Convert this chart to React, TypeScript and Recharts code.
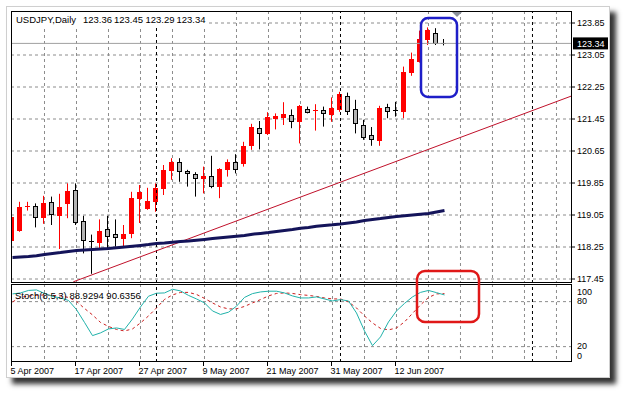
import React from 'react';
import {
  Bar,
  CartesianGrid,
  ComposedChart,
  Line,
  ReferenceLine,
  XAxis,
  YAxis,
} from 'recharts';

// USDJPY daily, 5 Apr 2007 .. 20 Jun 2007 (bar index 0..54)
const opens = [
  118.43, 118.68, 119.25, 119.28, 119.01, 119.37, 119.05, 119.36, 119.68, 118.91,
  118.41, 118.38, 118.69, 118.58, 118.48, 118.59, 119.48, 119.22, 119.41, 119.73,
  120.18, 120.37, 120.16, 120.07, 119.97, 120.03, 119.78, 120.2, 120.37, 120.34,
  120.8, 121.22, 121.09, 121.48, 121.51, 121.55, 121.41, 121.69, 121.66, 121.68,
  121.58, 121.69, 122.03, 121.69, 121.3, 121.05, 120.93, 121.74, 121.68, 121.66,
  122.63, 122.9, 123.46, 123.61, 123.36,
];
const highs = [
  119.03, 119.38, 119.38, 119.34, 119.53, 119.51, 119.58, 119.84, 119.84, 119.03,
  118.56, 118.94, 119.03, 118.94, 118.8, 119.63, 119.8, 119.73, 119.84, 120.3,
  120.47, 120.47, 120.18, 120.12, 120.26, 120.53, 120.22, 120.44, 120.57, 120.88,
  121.33, 121.4, 121.62, 121.59, 121.87, 121.69, 121.8, 121.76, 121.82, 121.76,
  121.99, 122.13, 122.11, 121.93, 121.43, 121.25, 121.78, 121.83, 121.88, 122.76,
  123.11, 123.66, 123.74, 123.72, 123.45,
];
const lows = [
  118.4, 118.63, 119.16, 118.74, 118.83, 118.8, 118.2, 118.97, 118.8, 118.09,
  117.58, 118.19, 118.18, 118.26, 118.26, 118.47, 118.85, 119.18, 119.13, 119.55,
  119.93, 119.88, 119.76, 119.51, 119.59, 119.72, 119.47, 120.01, 120.09, 120.26,
  120.68, 120.69, 121.05, 121.19, 121.3, 121.22, 120.84, 121.59, 121.16, 121.26,
  121.38, 121.63, 121.55, 121.09, 120.93, 120.78, 120.78, 121.47, 121.51, 121.47,
  122.53, 122.86, 123.3, 123.3, 123.29,
];
const closes = [
  119.0, 119.26, 119.28, 119.01, 119.36, 119.07, 119.26, 119.66, 118.88, 118.43,
  118.4, 118.65, 118.53, 118.51, 118.58, 119.47, 119.63, 119.41, 119.72, 120.18,
  120.38, 120.15, 120.09, 119.98, 120.03, 119.78, 120.2, 120.37, 120.2, 120.78,
  121.24, 121.09, 121.49, 121.53, 121.58, 121.4, 121.78, 121.63, 121.68, 121.61,
  121.72, 122.08, 121.66, 121.34, 121.01, 120.96, 121.72, 121.66, 121.675, 122.63,
  122.94, 123.46, 123.67, 123.36, 123.34,
];
const movingAvg = [
  117.99, 118.0, 118.01, 118.03, 118.06, 118.09, 118.11, 118.14, 118.16, 118.175,
  118.19, 118.2, 118.21, 118.23, 118.25, 118.27, 118.29, 118.31, 118.335, 118.35,
  118.37, 118.385, 118.4, 118.42, 118.44, 118.46, 118.48, 118.5, 118.52, 118.54,
  118.57, 118.59, 118.61, 118.64, 118.665, 118.69, 118.72, 118.74, 118.77, 118.79,
  118.805, 118.825, 118.85, 118.875, 118.91, 118.935, 118.96, 118.99, 119.01, 119.03,
  119.05, 119.07, 119.09, 119.125, 119.16,
];
const stochMain = [
  90.3, 91.6, 94.9, 95.6, 90.9, 86.9, 84.9, 81.6, 69.3, 52.3,
  34.7, 38.3, 43.6, 44.9, 42.9, 56.9, 72.9, 87.2, 91.2, 91.6,
  96.5, 94.3, 88.3, 83.6, 78.3, 67.6, 62.9, 65.9, 73.9, 85.6,
  90.7, 92.9, 93.9, 93.9, 91.6, 87.6, 84.9, 84.9, 86.3, 83.6,
  80.9, 82.7, 80.9, 64.9, 40.9, 21.3, 32.9, 52.9, 67.6, 77.6,
  86.3, 92.3, 94.9, 92.0, 88.93,
];
const stochSignal = [
  79.6, 85.6, 87.6, 88.3, 88.9, 88.3, 87.6, 85.6, 80.3, 70.9,
  62.3, 52.3, 46.9, 42.9, 40.9, 43.6, 51.6, 60.9, 71.6, 82.9,
  88.9, 92.3, 92.3, 89.6, 84.3, 78.3, 72.9, 70.3, 70.3, 73.6,
  78.3, 82.7, 87.6, 90.9, 91.6, 90.9, 89.3, 88.3, 86.9, 84.9,
  83.6, 83.6, 79.6, 71.6, 60.9, 51.6, 44.3, 42.3, 44.9, 52.9,
  64.3, 75.6, 85.6, 90.3, 90.64,
];

const priceTicks = [117.45, 118.25, 119.05, 119.85, 120.65, 121.45, 122.25, 123.05, 123.85];
const gridBars = [4, 8, 12, 16, 20, 24, 28, 32, 36, 40, 44, 48, 52, 56, 60, 64, 68];
const separatorBars = [18, 41, 65];
const dateTicks = [0, 8, 16, 24, 32, 40, 48];
const dateLabels = ['5 Apr 2007', '17 Apr 2007', '27 Apr 2007', '9 May 2007', '21 May 2007', '31 May 2007', '12 Jun 2007'];
const stochTicks = [0, 20, 80, 100];
const stochLevels = [20, 80];
const lastPrice = 123.34;
const headerParts = ['USDJPY,Daily', '123.36', '123.45', '123.29', '123.34'];
const stochTitle = 'Stoch(8,5,3) 88.9294 90.6356';
const trendFrom = { i: 7.6, price: 117.38 };
const trendTo = { i: 69.94, price: 122.03 };

const data = opens.map((open, i) => ({
  i,
  open,
  high: highs[i],
  low: lows[i],
  close: closes[i],
  range: [lows[i], highs[i]],
  ma: movingAvg[i],
  k: stochMain[i],
  d: stochSignal[i],
}));

const FONT = 'Tahoma, "Liberation Sans", Arial, sans-serif';
const W = 626;
const H = 395;
const xDomain: [number, number] = [-0.1875, 69.94];

function Candle(props: any) {
  const { x, y, width, height, payload } = props;
  if (!payload || !Number.isFinite(y) || !Number.isFinite(x)) return null;
  const top = Math.min(y, y + height);
  const h = Math.abs(height);
  const span = payload.high - payload.low || 1;
  const py = (p: number) => top + ((payload.high - p) / span) * h;
  const cx = Math.round(x + width / 2) - 0.5;
  const bull = payload.close > payload.open;
  const color = bull ? '#ff0000' : '#000000';
  const bTop = py(Math.max(payload.open, payload.close));
  const bBot = py(Math.min(payload.open, payload.close));
  const thin = bBot - bTop < 1.5;
  return (
    <g>
      <line x1={cx} x2={cx} y1={top} y2={top + h} stroke={color} strokeWidth={1} />
      {thin ? (
        <line
          x1={cx - 2.5}
          x2={cx + 2.5}
          y1={Math.round(bTop) + 0.5}
          y2={Math.round(bTop) + 0.5}
          stroke={color}
          strokeWidth={1}
        />
      ) : (
        <rect
          x={cx - 2}
          y={Math.round(bTop) + 0.5}
          width={4}
          height={Math.max(1, Math.round(bBot) - Math.round(bTop))}
          fill={bull ? '#ff0000' : '#b4b4b4'}
          stroke={color}
          strokeWidth={1}
        />
      )}
    </g>
  );
}

function PriceTag(props: any) {
  const vb = props.viewBox;
  if (!vb) return null;
  const x = vb.x + vb.width;
  const y = vb.y;
  return (
    <g>
      <rect x={x + 1} y={y - 6} width={35} height={12} fill="#000" />
      <text x={x + 5} y={y} dy="0.355em" fill="#fff" fontSize={9} fontFamily={FONT}>
        {lastPrice.toFixed(2)}
      </text>
    </g>
  );
}

const stochShift: Record<number, number> = { 0: -6, 20: -1, 80: -1, 100: 5 };

function StochTick(props: any) {
  const { x, y, payload } = props;
  return (
    <text x={x} y={y + (stochShift[payload.value] || 0)} dy="0.355em" fontSize={9} fontFamily={FONT} fill="#000">
      {payload.value}
    </text>
  );
}

function DateTick(props: any) {
  const { x, payload } = props;
  const idx = dateTicks.indexOf(payload.value);
  if (idx < 0) return null;
  const px = Math.round(x) - 0.5;
  return (
    <g>
      <line x1={px} x2={px} y1={362} y2={366} stroke="#000" />
      <text x={px - 1} y={374} fontSize={9} fontFamily={FONT} fill="#000">
        {dateLabels[idx]}
      </text>
    </g>
  );
}

export default function App() {
  return (
    <div style={{ position: 'absolute', left: 0, top: 0, width: W, height: H, background: '#fff', overflow: 'hidden' }}>
      <div
        style={{
          position: 'absolute',
          left: 6,
          top: 6,
          width: 604,
          height: 372,
          boxSizing: 'border-box',
          background: '#fff',
          border: '1px solid #cfcfcf',
          boxShadow: '6px 6px 5px rgba(0,0,0,0.8)',
        }}
      />
      <div style={{ position: 'absolute', left: 0, top: 0 }}>
        <ComposedChart width={W} height={290} data={data} margin={{ top: 11, left: 11, right: 0, bottom: 7 }}>
          <XAxis type="number" dataKey="i" domain={xDomain} allowDataOverflow hide ticks={gridBars} />
          <YAxis
            orientation="right"
            domain={[117.35, 124.15]}
            allowDataOverflow
            ticks={priceTicks}
            interval={0}
            width={54}
            axisLine={false}
            tickSize={3}
            tickLine={{ stroke: '#000' }}
            tick={{ fill: '#000', fontSize: 9, fontFamily: FONT }}
            tickFormatter={(v: number) => v.toFixed(2)}
          />
          <CartesianGrid
            stroke="#8c8c8c"
            strokeDasharray="3 3"
            verticalValues={gridBars}
            horizontalValues={priceTicks}
          />
          {separatorBars.map((b) => (
            <ReferenceLine key={b} x={b} stroke="#000" strokeDasharray="3 3" />
          ))}
          <ReferenceLine y={lastPrice} stroke="#a0a0a0" label={(p: any) => <PriceTag {...p} />} />
          <ReferenceLine
            segment={[
              { x: trendFrom.i, y: trendFrom.price },
              { x: trendTo.i, y: trendTo.price },
            ]}
            stroke="#c0102a"
            strokeWidth={1}
          />
          <Bar dataKey="range" barSize={5} isAnimationActive={false} shape={(p: any) => <Candle {...p} />} />
          <Line dataKey="ma" stroke="#14145a" strokeWidth={3} dot={false} isAnimationActive={false} />
        </ComposedChart>
      </div>
      <div style={{ position: 'absolute', left: 0, top: 0 }}>
        <ComposedChart width={W} height={H} data={data} margin={{ top: 284, left: 11, right: 0, bottom: 13 }}>
          <XAxis
            type="number"
            dataKey="i"
            domain={xDomain}
            allowDataOverflow
            ticks={dateTicks}
            interval={0}
            height={20}
            axisLine={false}
            tickLine={false}
            tick={(p: any) => <DateTick {...p} />}
          />
          <YAxis
            orientation="right"
            domain={[-0.5, 103.5]}
            allowDataOverflow
            ticks={stochTicks}
            interval={0}
            width={54}
            axisLine={false}
            tickSize={3}
            tickLine={false}
            tick={(p: any) => <StochTick {...p} />}
          />
          <CartesianGrid
            stroke="#8c8c8c"
            strokeDasharray="3 3"
            verticalValues={gridBars}
            horizontalValues={stochLevels}
          />
          {separatorBars.map((b) => (
            <ReferenceLine key={b} x={b} stroke="#000" strokeDasharray="3 3" />
          ))}
          <Line dataKey="d" stroke="#cc1f1f" strokeWidth={1} strokeDasharray="3 3" dot={false} isAnimationActive={false} />
          <Line dataKey="k" stroke="#20b2aa" strokeWidth={1} dot={false} isAnimationActive={false} />
        </ComposedChart>
      </div>
      <svg width={W} height={H} style={{ position: 'absolute', left: 0, top: 0, pointerEvents: 'none' }}>
        <rect x={11.5} y={11.5} width={560} height={271} fill="none" stroke="#000" />
        <rect x={11.5} y={284.5} width={560} height={77} fill="none" stroke="#000" />
        <rect x={12} y={12} width={194} height={14} fill="#fff" />
        <text fontSize={9.5} fontFamily={FONT} fill="#000" y={22.5}>
          <tspan x={16}>{headerParts[0]}</tspan>
          <tspan x={83}>{headerParts[1]}</tspan>
          <tspan x={114}>{headerParts[2]}</tspan>
          <tspan x={145.5}>{headerParts[3]}</tspan>
          <tspan x={176.5}>{headerParts[4]}</tspan>
        </text>
        <text x={15} y={299} fontSize={9.5} fontFamily={FONT} fill="#000">
          {stochTitle}
        </text>
        <polygon points="452,12 462,12 457,17" fill="#8a909c" />
        <rect x={421} y={18} width={36} height={79} rx={7} fill="none" stroke="#1e1ec8" strokeWidth={2.5} />
        <rect x={417} y={271} width={62} height={51} rx={8} fill="none" stroke="#e01818" strokeWidth={2.5} />
      </svg>
    </div>
  );
}
